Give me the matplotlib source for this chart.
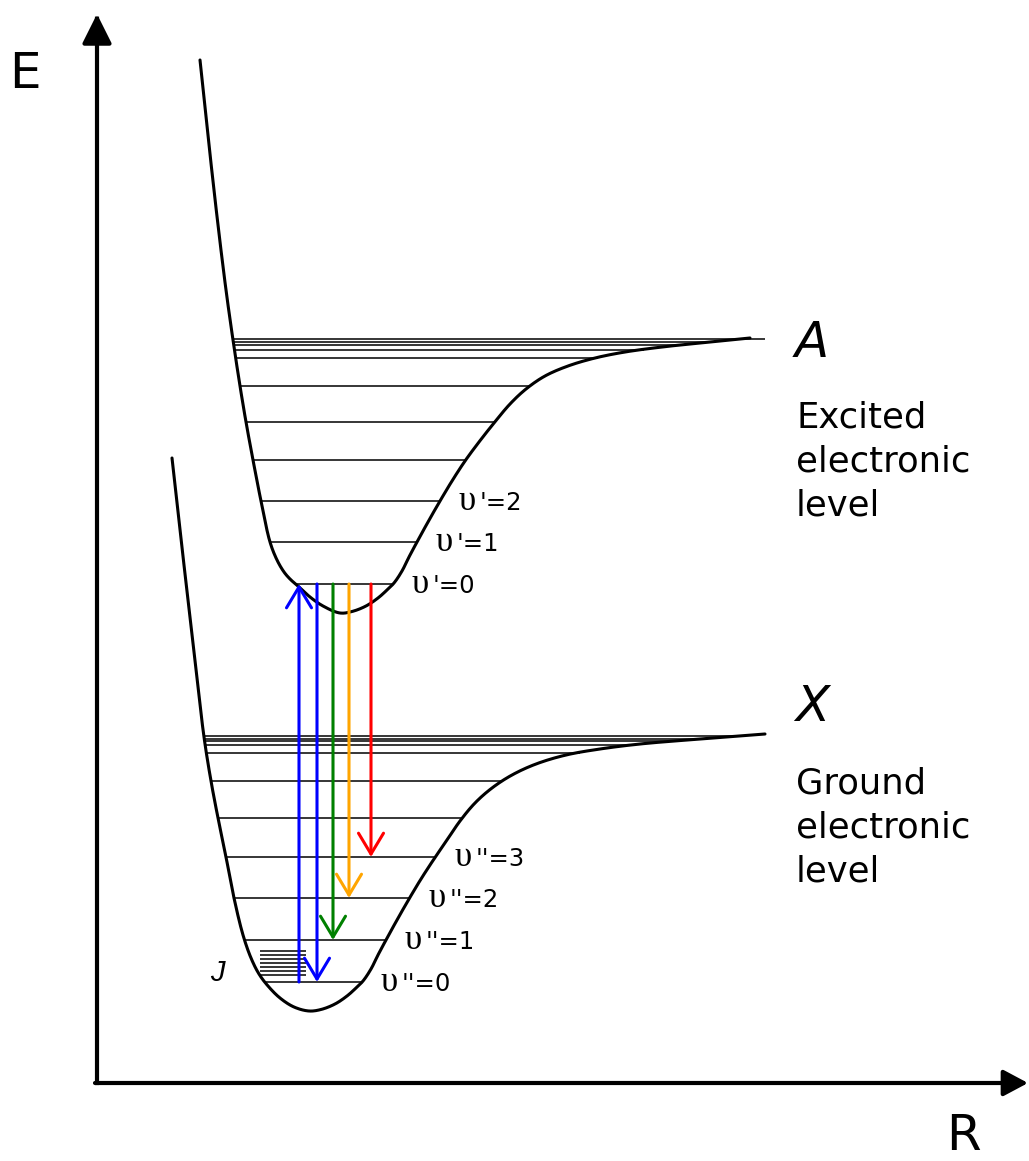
import numpy as np
import matplotlib
matplotlib.use("Agg")
import matplotlib.pyplot as plt
from matplotlib.patches import FancyArrowPatch

# ---------------- data (picture units: R to the right, E measured downward on page) ----
# Excited state A potential curve (points read from the picture)
A_left_R = [200, 209, 218, 226, 233, 240, 246, 253, 261, 270, 277, 284, 290, 299, 310, 323, 340]
A_left_E = [60, 145, 225, 290, 340, 386, 422, 460, 501, 542, 560, 572, 579, 587, 597, 606, 613]
A_right_R = [750, 705, 662, 625, 595, 568, 545, 526, 510, 494, 479, 465, 452, 440, 428, 417,
             409, 402, 394, 387, 378, 366, 352, 340]
A_right_E = [338, 342.5, 347, 352, 358, 366, 376, 389, 404, 423, 442, 461, 481, 501, 522, 542,
             557, 571, 583, 590, 598, 606, 611.5, 613]
A_levels = [584, 542, 501, 460, 422, 386, 357.5, 349.5, 344.5, 341.5, 339]
A_top_extent = 765

# Ground state X potential curve
X_left_R = [172, 180, 188, 196, 204, 211, 218, 226, 234, 243, 251, 259, 268, 280, 294, 309]
X_left_E = [458, 530, 600, 670, 737, 781, 818, 857, 898, 935, 958, 974, 986, 998, 1007, 1011]
X_right_R = [765, 700, 640, 600, 566, 536, 512, 492, 475, 460, 447, 434, 421, 409, 397, 386,
             378, 371, 363, 356, 347, 335, 321, 309]
X_right_E = [734, 739, 744, 749, 755, 764, 775, 788, 803, 821, 840, 859, 879, 899, 920, 940,
             955, 969, 981, 988, 996, 1004, 1009.5, 1011]
X_levels = [982, 940, 898, 857, 818, 781, 752.5, 745, 741, 738.5, 736]

# rotational (J) sub-levels
J_levels = [951, 955, 959, 963, 967, 971, 975]
J_extent = [260, 306]

# transitions between A(v'=0) and X(v'')
trans_R = [299, 317, 333, 349, 371]
trans_lower_v = [0, 0, 1, 2, 3]
trans_up = [True, False, False, False, False]
trans_colors = ["#0000ff", "#0000ff", "#008000", "#ffa500", "#ff0000"]

A_labelled_v = [0, 1, 2]
X_labelled_v = [0, 1, 2, 3]


def smooth(xs, ys, n=16, alpha=0.5):
    """Centripetal Catmull-Rom curve through the read points."""
    P = np.column_stack([xs, ys]).astype(float)
    P = np.vstack([2 * P[0] - P[1], P, 2 * P[-1] - P[-2]])
    out = []
    for i in range(1, len(P) - 2):
        p0, p1, p2, p3 = P[i - 1], P[i], P[i + 1], P[i + 2]
        t0 = 0.0
        t1 = t0 + max(np.linalg.norm(p1 - p0), 1e-6) ** alpha
        t2 = t1 + max(np.linalg.norm(p2 - p1), 1e-6) ** alpha
        t3 = t2 + max(np.linalg.norm(p3 - p2), 1e-6) ** alpha
        t = np.linspace(t1, t2, n, endpoint=False)[:, None]
        a1 = (t1 - t) / (t1 - t0) * p0 + (t - t0) / (t1 - t0) * p1
        a2 = (t2 - t) / (t2 - t1) * p1 + (t - t1) / (t2 - t1) * p2
        a3 = (t3 - t) / (t3 - t2) * p2 + (t - t2) / (t3 - t2) * p3
        b1 = (t2 - t) / (t2 - t0) * a1 + (t - t0) / (t2 - t0) * a2
        b2 = (t3 - t) / (t3 - t1) * a2 + (t - t1) / (t3 - t1) * a3
        c = (t2 - t) / (t2 - t1) * b1 + (t - t1) / (t2 - t1) * b2
        out.append(c)
    out.append(P[-2][None])
    return np.vstack(out)


fig = plt.figure(figsize=(10.29, 11.61), dpi=100)
ax = fig.add_axes([0, 0, 1, 1])
ax.set_xlim(0, 1029)
ax.set_ylim(1161, 0)
ax.axis("off")

SANS = "DejaVu Sans"
SERIF = "Liberation Serif"

# axes arrows
ax.add_patch(FancyArrowPatch((97, 1083), (97, 14), arrowstyle="-|>,head_length=18,head_width=9",
                             mutation_scale=1, lw=3, color="black", shrinkA=0, shrinkB=0,
                             capstyle="projecting"))
ax.add_patch(FancyArrowPatch((95, 1083), (1028, 1083), arrowstyle="-|>,head_length=15,head_width=8",
                             mutation_scale=1, lw=3, color="black", shrinkA=0, shrinkB=0))
ax.text(9, 88, "E", fontsize=36, family=SANS, ha="left", va="baseline")
ax.text(946, 1160.5, "R", fontsize=36, family=SANS, ha="left", va="bottom")


def draw_state(left_R, left_E, right_R, right_E, levels, top_extent=None):
    cx = list(left_R) + list(right_R[::-1][1:])
    cy = list(left_E) + list(right_E[::-1][1:])
    c = smooth(cx, cy)
    ax.plot(c[:, 0], c[:, 1], color="black", lw=2.2, solid_capstyle="round",
            solid_joinstyle="round", zorder=3)
    lv = np.array(levels, dtype=float)
    lx = np.interp(lv, left_E, left_R)
    rx = np.interp(lv, right_E, right_R)
    if top_extent is not None:
        rx[-1] = top_extent
    ax.hlines(lv, lx, rx, color="black", lw=1.1, zorder=2)
    return rx


A_rx = draw_state(A_left_R, A_left_E, A_right_R, A_right_E, A_levels, A_top_extent)
X_rx = draw_state(X_left_R, X_left_E, X_right_R, X_right_E, X_levels)

ax.hlines(J_levels, J_extent[0], J_extent[1], color="black", lw=1.1, zorder=2)
ax.text(210, 981, "J", fontsize=21, family="Liberation Sans", style="italic",
        ha="left", va="baseline")


# vibrational labels
def vib_label(x, y, primes, v):
    ax.text(x, y + 9, "\u03c5", fontsize=25, family=SERIF, ha="left", va="baseline")
    ax.text(x + 21, y + 9, primes + "=" + str(v), fontsize=17.5, family=SANS,
            ha="left", va="baseline")


for v in A_labelled_v:
    vib_label(A_rx[v] + 19, A_levels[v], "'", v)
for v in X_labelled_v:
    vib_label(X_rx[v] + 19, X_levels[v], "''", v)

# transitions
for R, lv, up, col in zip(trans_R, trans_lower_v, trans_up, trans_colors):
    lo = X_levels[lv]
    hi = A_levels[0]
    start, end = ((R, lo), (R, hi)) if up else ((R, hi), (R, lo))
    ax.add_patch(FancyArrowPatch(start, end, arrowstyle="->,head_length=15,head_width=9",
                                 mutation_scale=1, lw=2.2, color=col, shrinkA=0, shrinkB=0,
                                 zorder=4))

# state names and descriptions
ax.text(795, 357, "A", fontsize=36, family=SANS, style="italic", ha="left", va="baseline")
ax.text(795, 721, "X", fontsize=36, family=SANS, style="italic", ha="left", va="baseline")
for txt, yb in zip(["Excited", "electronic", "level"], [428, 472, 516]):
    ax.text(796, yb, txt, fontsize=25.5, family=SANS, ha="left", va="baseline")
for txt, yb in zip(["Ground", "electronic", "level"], [793, 837, 881]):
    ax.text(796, yb, txt, fontsize=25.5, family=SANS, ha="left", va="baseline")

fig.savefig("out.png", dpi=100)
